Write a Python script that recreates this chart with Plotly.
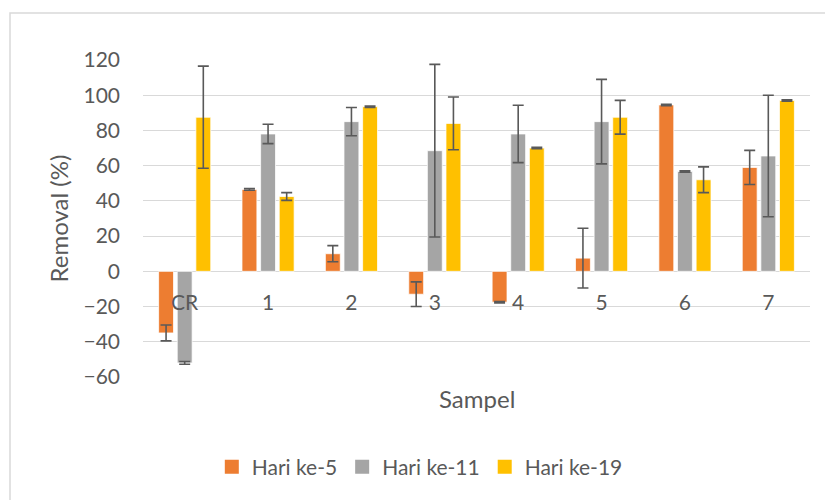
import plotly.graph_objects as go

categories = ["CR", "1", "2", "3", "4", "5", "6", "7"]
hari5 = [-35, 46.5, 10, -13, -17.5, 7.5, 94.5, 59]
err5 = [4.5, 0.5, 4.6, 7, 0.4, 17, 0.4, 9.7]
hari11 = [-52, 78, 85, 68.5, 78, 85, 56.7, 65.5]
err11 = [0.8, 5.5, 8, 49, 16.3, 24, 0.4, 34.5]
hari19 = [87.5, 42.5, 93.5, 84, 70, 87.5, 52, 97]
err19 = [29, 2.2, 0.4, 15, 0.4, 9.6, 7.3, 0.4]
series_names = ["Hari ke-5", "Hari ke-11", "Hari ke-19"]
colors = ["#ED7D31", "#A5A5A5", "#FFC000"]
yticks = [-60, -40, -20, 0, 20, 40, 60, 80, 100, 120]

FONT = "Lato"
TXT = "#595959"

fig = go.Figure()
for name, vals, errs, col in zip(series_names, [hari5, hari11, hari19], [err5, err11, err19], colors):
    fig.add_trace(go.Bar(
        x=categories, y=vals, name=name, legendgroup=name, showlegend=False,
        marker=dict(color=col, line=dict(color="white", width=0.75)),
        error_y=dict(type="data", array=errs, visible=True, color="#595959", thickness=1.6, width=5.5),
    ))
# legend entries with square swatches
for name, col in zip(series_names, colors):
    fig.add_trace(go.Scatter(
        x=[None], y=[None], mode="markers", name=name, legendgroup=name, showlegend=True,
        marker=dict(symbol="square", size=14, color=col),
    ))

fig.update_layout(
    width=825, height=500,
    margin=dict(l=143, r=15, t=60, b=123, autoexpand=False),
    paper_bgcolor="white", plot_bgcolor="white",
    barmode="group", bargap=0.33, bargroupgap=0.2,
    font=dict(family=FONT, size=21, color=TXT),
    showlegend=True,
    legend=dict(orientation="h", x=0.415, xanchor="center", y=-0.284, yanchor="middle",
                font=dict(size=21, color=TXT), itemwidth=30, traceorder="normal"),
    xaxis=dict(type="category", anchor="free", position=0.282, showline=False, showgrid=False,
               zeroline=False, ticks="", tickfont=dict(size=21, color=TXT), automargin=False),
    yaxis=dict(range=[-60, 120], tickvals=yticks, showgrid=True, gridcolor="#D9D9D9", gridwidth=1.2,
               zeroline=True, zerolinecolor="#D9D9D9", zerolinewidth=1.2, automargin=False,
               showline=False, ticks="", ticklabelstandoff=22, tickfont=dict(size=21, color=TXT),
               title=dict(text="Removal (%)", font=dict(size=24, color=TXT), standoff=8)),
    annotations=[dict(text="Sampel", xref="paper", yref="paper", x=0.5, y=-0.068,
                      xanchor="center", yanchor="middle", showarrow=False,
                      font=dict(size=24, color=TXT))],
)

# chart-area border (extends beyond the picture on right and bottom)
fig.add_shape(type="rect", xref="paper", yref="paper", x0=-0.1994, x1=1.2, y0=-0.6, y1=1.148,
              line=dict(color="#D9D9D9", width=1.5), fillcolor="rgba(0,0,0,0)", layer="below")

fig.write_html("out.html", post_script="document.body.style.margin='0';",
               config={"displayModeBar": False})
